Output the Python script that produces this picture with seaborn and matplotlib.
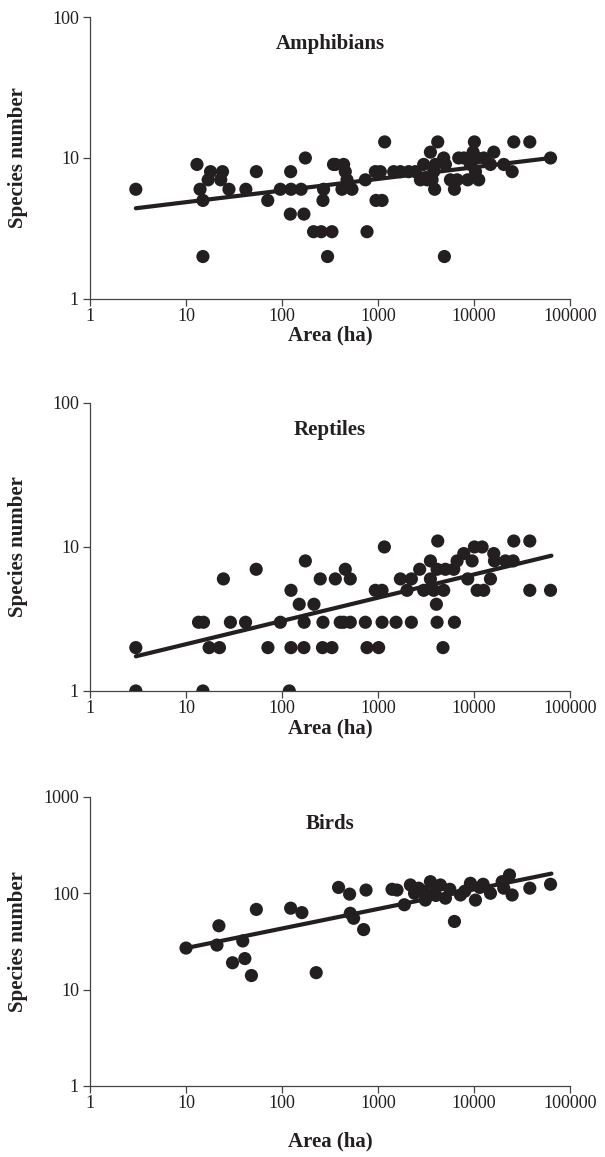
import numpy as np
import pandas as pd
import matplotlib
matplotlib.use('Agg')
import matplotlib.pyplot as plt
import seaborn as sns

# Datos (area en ha, numero de especies)
amph_area = [3, 13, 18, 24, 17, 23, 14, 15, 28, 42, 54, 71, 15, 96, 124, 158, 123, 175, 267, 122,
             169, 213, 256, 331, 298, 271, 359, 344, 438, 456, 475, 421, 535, 738, 953, 1101, 937, 1057, 1172, 768,
             4913, 1455, 1710, 2089, 2449, 2762, 3243, 2990, 3512, 4188, 3958, 4831, 5035, 3800, 3657, 3890, 5678, 6250, 6660, 6930,
             7820, 8600, 9170, 10090, 9780, 10770, 11200, 10350, 12620, 16060, 14830, 20400, 24940, 25940, 38100, 62650]
amph_species = [6, 9, 8, 8, 7, 7, 6, 5, 6, 6, 8, 5, 2, 6, 6, 6, 8, 10, 5, 4,
                4, 3, 3, 3, 2, 6, 9, 9, 9, 8, 7, 6, 6, 7, 5, 5, 8, 8, 13, 3,
                2, 8, 8, 8, 8, 7, 7, 9, 11, 13, 9, 10, 9, 8, 7, 6, 7, 6, 7, 10,
                10, 7, 9, 13, 11, 10, 7, 8, 10, 11, 9, 9, 8, 13, 13, 10]
amph_fit_x = [3, 63000]
amph_fit_y = [4.4, 10]

rept_area = [3, 3, 15, 119, 13.5, 15.2, 17.4, 22.3, 24.5, 29, 41.7, 53.8, 71.3, 96, 124, 151, 215, 175, 170, 250,
             267, 124, 169, 264, 331, 359, 456, 514, 438, 514, 404, 738, 1101, 1541, 2225, 4123, 6250, 768, 1015, 4750,
             937, 1101, 1164, 1710, 2225, 2004, 2716, 2990, 3512, 3512, 3800, 4055, 4188, 4831, 4123, 5035, 6150, 6660, 7820, 9550,
             8600, 10090, 12140, 10770, 12620, 14830, 16060, 16330, 21250, 25550, 25940, 38100, 38100, 62650]
rept_species = [2, 1, 1, 1, 3, 3, 2, 2, 6, 3, 3, 7, 2, 3, 5, 4, 4, 8, 3, 6,
                3, 2, 2, 2, 2, 6, 7, 6, 3, 3, 3, 3, 3, 3, 3, 3, 3, 2, 2, 2,
                5, 5, 10, 6, 6, 5, 7, 5, 8, 6, 5, 4, 11, 5, 7, 7, 7, 8, 9, 8,
                6, 10, 10, 5, 5, 6, 9, 8, 8, 8, 11, 11, 5, 5]
rept_fit_x = [3, 64000]
rept_fit_y = [1.74, 8.7]

bird_area = [10, 22, 21, 30.5, 41, 39, 48, 54, 123, 161, 227, 388, 506, 514, 557, 708, 750, 1578, 1880, 2172,
             2652, 3112, 3512, 4465, 3800, 5035, 6250, 7220, 9170, 10350, 12440, 14830, 19630, 23400, 24940, 20400, 38100, 62650, 2990,
             1400, 2400, 4000, 5600, 8000, 11500]
bird_species = [27, 46, 29, 19, 21, 32, 14, 68, 70, 63, 15, 115, 98, 62, 55, 42, 108, 108, 76, 122,
                113, 85, 132, 122, 100, 89, 51, 96, 127, 85, 124, 100, 132, 155, 96, 113, 113, 124, 104,
                110, 100, 95, 110, 105, 115]
bird_fit_x = [10, 64000]
bird_fit_y = [27, 160]

titles = ['Amphibians', 'Reptiles', 'Birds']
x_ticks = [1, 10, 100, 1000, 10000, 100000]
y_tops = [100, 100, 1000]

sns.set_style('ticks')
plt.rcParams['font.family'] = ['Liberation Serif', 'DejaVu Serif']

ink = '#231f20'
fig = plt.figure(figsize=(6.05, 11.57), dpi=100)

# posiciones de los ejes (fraccion de la figura)
posiciones = [[0.1488, 0.7416, 0.7934, 0.2437],
              [0.1488, 0.4028, 0.7934, 0.2489],
              [0.1488, 0.0614, 0.7934, 0.2498]]
xlabel_y = [-0.093, -0.096, -0.159]

datos = [(amph_area, amph_species, amph_fit_x, amph_fit_y),
         (rept_area, rept_species, rept_fit_x, rept_fit_y),
         (bird_area, bird_species, bird_fit_x, bird_fit_y)]

for pos, (xa, ya, fx, fy), titulo, ytop, yl in zip(posiciones, datos, titles, y_tops, xlabel_y):
    ax = fig.add_axes(pos)
    df = pd.DataFrame({'area': xa, 'species': ya})
    sns.scatterplot(data=df, x='area', y='species', ax=ax, color=ink, s=90,
                    edgecolor='none', linewidth=0, zorder=3)
    sns.lineplot(x=fx, y=fy, ax=ax, color=ink, linewidth=3, zorder=4)
    ax.set_xscale('log')
    ax.set_yscale('log')
    ax.set_xlim(1, 100000)
    ax.set_ylim(1, ytop)
    ax.set_xticks(x_ticks)
    ax.set_xticklabels([str(t) for t in x_ticks])
    yt = [t for t in [1, 10, 100, 1000] if t <= ytop]
    ax.set_yticks(yt)
    ax.set_yticklabels([str(t) for t in yt])
    ax.minorticks_off()
    sns.despine(ax=ax)
    for s in ['left', 'bottom']:
        ax.spines[s].set_color('#444444')
        ax.spines[s].set_linewidth(0.9)
    ax.tick_params(axis='both', direction='out', length=5, width=0.9,
                   color='#444444', labelsize=13, labelcolor=ink, pad=1.5)
    ax.tick_params(axis='y', pad=3)
    ax.set_xlabel('Area (ha)', fontsize=15, fontweight='bold', color=ink)
    ax.xaxis.set_label_coords(0.5, yl)
    ax.set_ylabel('Species number', fontsize=15, fontweight='bold', color=ink)
    ax.yaxis.set_label_coords(-0.13, 0.5)
    ax.text(0.5, 0.905, titulo, transform=ax.transAxes, ha='center', va='center',
            fontsize=15, fontweight='bold', color=ink)

fig.savefig('out.png', dpi=100)
